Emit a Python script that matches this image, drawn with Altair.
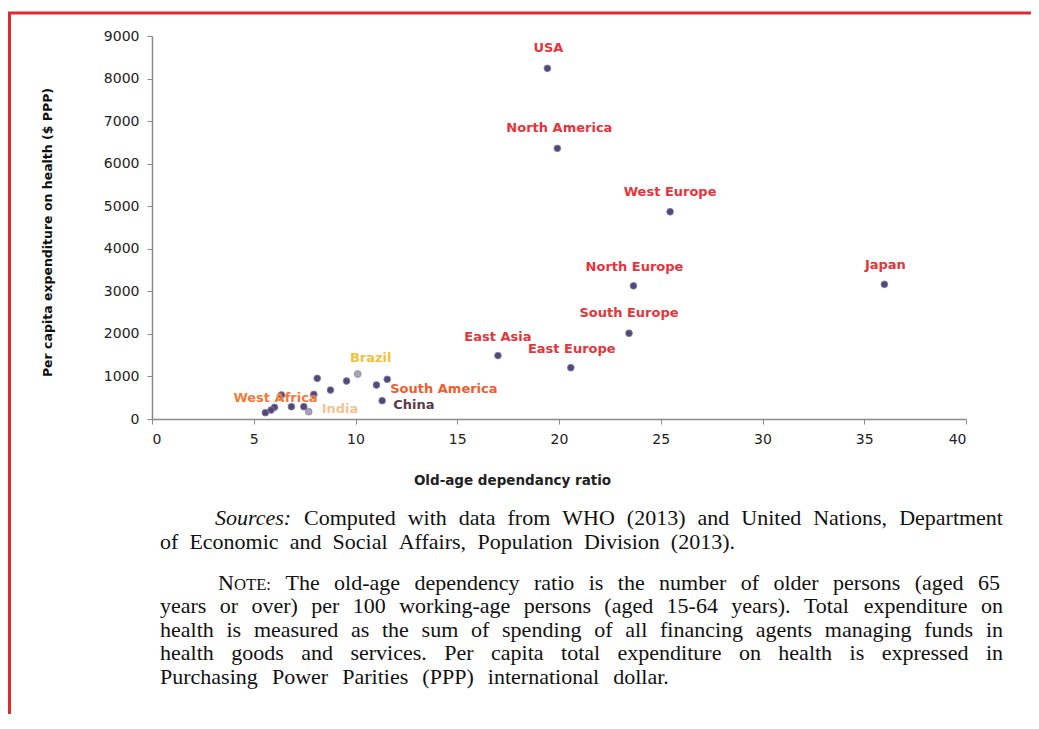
import altair as alt
import pandas as pd

# ---------------- data ----------------
labeled_names = ["USA", "North America", "West Europe", "North Europe", "Japan",
                 "South Europe", "East Asia", "East Europe", "Brazil",
                 "South America", "China", "West Africa", "India"]
labeled_ratio = [19.43, 19.92, 25.46, 23.66, 35.99, 23.44, 17.0, 20.58, 10.11,
                 11.56, 11.31, 6.02, 7.70]
labeled_spend = [8240, 6360, 4870, 3130, 3165, 2015, 1490, 1205, 1057,
                 933, 430, 275, 172]

other_ratio = [5.57, 5.85, 6.36, 6.85, 7.46, 7.95, 8.12, 8.77, 9.56, 11.03]
other_spend = [148, 211, 564, 289, 289, 580, 956, 681, 893, 799]

grey_points = ["Brazil", "India"]

x_ticks = [0, 5, 10, 15, 20, 25, 30, 35, 40]
y_ticks = [0, 1000, 2000, 3000, 4000, 5000, 6000, 7000, 8000, 9000]

x_title = "Old-age dependancy ratio"
y_title = "Per capita expenditure on health ($ PPP)"

sources_lines = [
    "Computed with data from WHO (2013) and United Nations, Department",
    "of Economic and Social Affairs, Population Division (2013).",
]
note_lines = [
    "The old-age dependency ratio is the number of older persons (aged 65",
    "years or over) per 100 working-age persons (aged 15-64 years). Total expenditure on",
    "health is measured as the sum of spending of all financing agents managing funds in",
    "health goods and services. Per capita total expenditure on health is expressed in",
    "Purchasing Power Parities (PPP) international dollar.",
]

# ---------------- styles ----------------
RED = "#e8333b"
label_style = {
    "USA": dict(color=RED, align="center", dx=1, dy=-20),
    "North America": dict(color=RED, align="center", dx=2, dy=-20),
    "West Europe": dict(color=RED, align="center", dx=0, dy=-20),
    "North Europe": dict(color=RED, align="center", dx=1, dy=-19),
    "Japan": dict(color=RED, align="center", dx=1, dy=-19),
    "South Europe": dict(color=RED, align="center", dx=0, dy=-20),
    "East Asia": dict(color=RED, align="center", dx=0, dy=-19),
    "East Europe": dict(color=RED, align="center", dx=1, dy=-19),
    "Brazil": dict(color="#f0c33a", align="center", dx=13, dy=-16),
    "South America": dict(color="#f25c2c", align="left", dx=3, dy=10),
    "China": dict(color="#5b3a4c", align="left", dx=11, dy=4),
    "West Africa": dict(color="#f27a36", align="center", dx=1, dy=-9),
    "India": dict(color="#f5c493", align="left", dx=13, dy=-3),
}

W, H = 814, 383
LABEL_FONT = "DejaVu Sans"

lab_df = pd.DataFrame({"name": labeled_names, "ratio": labeled_ratio,
                       "spend": labeled_spend})
lab_df["grey"] = lab_df["name"].isin(grey_points)
oth_df = pd.DataFrame({"name": [""] * len(other_ratio), "ratio": other_ratio,
                       "spend": other_spend, "grey": [False] * len(other_ratio)})
all_df = pd.concat([lab_df, oth_df], ignore_index=True)

xs = alt.Scale(domain=[0, 40], nice=False, zero=True)
ys = alt.Scale(domain=[0, 9000], nice=False)

x_enc = alt.X("ratio:Q", scale=xs,
              axis=alt.Axis(values=x_ticks, title=x_title, grid=False,
                            tickSize=5, labelPadding=8, domainColor="#8a8a8a",
                            tickColor="#8a8a8a", domainWidth=1.5, tickWidth=1,
                            labelFont=LABEL_FONT, labelFontSize=14,
                            labelColor="#222222", titleFont=LABEL_FONT,
                            titleFontSize=13.5, titleFontWeight="bold",
                            titleColor="#222222", titleX=360, titleY=61,
                            titleBaseline="middle", titleAlign="center"))
y_enc = alt.Y("spend:Q", scale=ys,
              axis=alt.Axis(values=y_ticks, title=y_title, grid=False, format="d",
                            tickSize=5, labelPadding=8, domainColor="#8a8a8a",
                            tickColor="#8a8a8a", domainWidth=1.5, tickWidth=1,
                            labelFont=LABEL_FONT, labelFontSize=14,
                            labelColor="#222222", titleFont=LABEL_FONT,
                            titleFontSize=12.5, titleFontWeight="bold",
                            titleColor="#111111", titleX=-105, titleY=196,
                            titleBaseline="middle", titleAlign="center",
                            titleAngle=270))

base = alt.Chart(all_df)

axes_layer = base.mark_point(opacity=0).encode(x=x_enc, y=y_enc)

dots = base.mark_circle(size=46, opacity=1, stroke="#8a82a6", strokeWidth=0.8).encode(
    x=alt.X("ratio:Q", scale=xs), y=alt.Y("spend:Q", scale=ys),
    fill=alt.condition("datum.grey", alt.value("#a8a5b6"), alt.value("#54487a")),
)

label_layers = []
for name in labeled_names:
    st = label_style[name]
    label_layers.append(
        alt.Chart(lab_df).transform_filter(alt.datum.name == name)
        .mark_text(font=LABEL_FONT, fontSize=13, fontWeight="bold",
                   color=st["color"], align=st["align"], baseline="middle",
                   dx=st["dx"], dy=st["dy"])
        .encode(x=alt.X("ratio:Q", scale=xs), y=alt.Y("spend:Q", scale=ys),
                text="name:N")
    )

# ---------------- notes text (justified with Times metrics) ----------------
one = pd.DataFrame({"k": [0]})
SERIF = "Liberation Serif"
FS = 22
SC = 0.76  # small-caps size ratio
OX, OY = 152, 36  # page position of plot origin

TIMES = {" ": 250, "!": 333, "(": 333, ")": 333, ",": 250, "-": 333, ".": 250,
         ":": 278, ";": 278}
TIMES.update({d: 500 for d in "0123456789"})
TIMES.update(dict(zip("ABCDEFGHIJKLMNOPQRSTUVWXYZ",
                      [722, 667, 667, 722, 611, 556, 722, 722, 333, 389, 722, 611, 889,
                       722, 722, 556, 722, 667, 556, 611, 722, 722, 944, 722, 722, 611])))
TIMES.update(dict(zip("abcdefghijklmnopqrstuvwxyz",
                      [444, 500, 444, 500, 444, 333, 500, 500, 278, 278, 500, 278, 778,
                       500, 500, 500, 500, 333, 389, 278, 500, 500, 722, 500, 500, 444])))
ITAL = dict(TIMES)
ITAL.update({"S": 500, "r": 389, ":": 333})


def wwidth(word, size=FS, table=TIMES):
    return sum(table.get(c, 500) for c in word) * size / 1000.0


def txt(s, px, py, size=FS, style="normal", align="left"):
    return alt.Chart(one).mark_text(font=SERIF, fontSize=size, fontStyle=style,
                                    align=align, baseline="alphabetic",
                                    color="#111111").encode(
        x=alt.value(px - OX), y=alt.value(py - OY), text=alt.value(s))


def justified(words, left, right, py):
    """words: list of (kind, text); kind in normal/italic/smallcaps"""
    widths = []
    for kind, w in words:
        if kind == "italic":
            widths.append(wwidth(w, table=ITAL))
        elif kind == "smallcaps":
            widths.append(wwidth(w[0]) + wwidth(w[1:], FS * SC))
        else:
            widths.append(wwidth(w))
    gap = (right - left - sum(widths)) / max(len(words) - 1, 1)
    gap = max(gap, FS * 0.25)
    out = []
    x = left
    for (kind, w), wd in zip(words, widths):
        if kind == "italic":
            out.append(txt(w, x, py, style="italic"))
        elif kind == "smallcaps":
            out.append(txt(w[0], x, py))
            out.append(txt(w[1:], x + wwidth(w[0]), py, size=FS * SC))
        else:
            out.append(txt(w, x, py))
        x += wd + gap
    return out


def plain(line):
    return [("normal", w) for w in line.split(" ")]


notes = []
notes += justified([("italic", "Sources:")] + plain(sources_lines[0]), 215, 1003, 525)
notes += justified(plain(sources_lines[1]), 160, 735, 549)
notes += justified([("smallcaps", "NOTE:")] + plain(note_lines[0]), 218, 1000, 590)
notes += justified(plain(note_lines[1]), 160, 1003, 613)
notes += justified(plain(note_lines[2]), 160, 1003, 637)
notes += justified(plain(note_lines[3]), 160, 1003, 660)
notes += justified(plain(note_lines[4]), 160, 670, 684)

border = alt.Chart(one).mark_rect(fill="transparent", stroke="#e02b2b",
                                  strokeWidth=3).encode(
    x=alt.value(9.5 - OX), x2=alt.value(1036 - OX),
    y=alt.value(13 - OY), y2=alt.value(760 - OY))

chart = alt.layer(border, axes_layer, dots, *label_layers, *notes).properties(
    width=W, height=H,
    padding={"left": OX - 8, "top": OY - 8, "right": 65, "bottom": 295},
    autosize=alt.AutoSizeParams(type="none"),
    background="white",
).configure_view(strokeWidth=0)

chart.save("out.html", embed_options={"renderer": "svg", "actions": False})
